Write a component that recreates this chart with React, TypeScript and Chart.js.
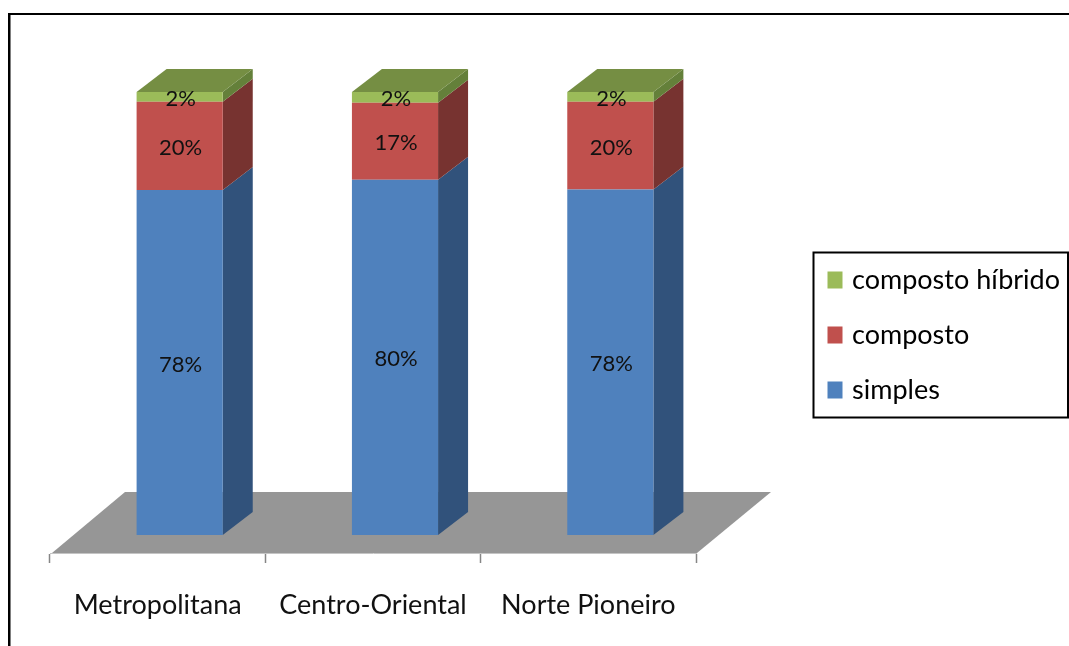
import React, { useEffect, useRef } from "react";
import { Chart, registerables } from "chart.js";

Chart.register(...registerables);

const categories = ["Metropolitana", "Centro-Oriental", "Norte Pioneiro"];
const simples = [77.9, 80.2, 78.0];
const composto = [19.9, 17.4, 19.8];
const compostoHibrido = [2.2, 2.4, 2.2];

const FONT = "Lato";
const BAR_SHIFT = { x: 22, y: -18 };
const BAR_DEPTH = { x: 30, y: -23 };
const FLOOR_DEPTH = { x: 75, y: -61 };

const faceColors = ["#4F81BD", "#C0504D", "#9BBB59"];
const sideColors = ["#31527B", "#773330", "#64803A"];
const topColor = "#758E43";

function poly(ctx: CanvasRenderingContext2D, pts: number[][], fill: string) {
  ctx.beginPath();
  pts.forEach(([x, y], i) => (i ? ctx.lineTo(x, y) : ctx.moveTo(x, y)));
  ctx.closePath();
  ctx.fillStyle = fill;
  ctx.fill();
}

const scene3d = {
  id: "scene3d",
  beforeDraw(chart: any) {
    const ctx = chart.ctx as CanvasRenderingContext2D;
    ctx.save();
    ctx.fillStyle = "#FFFFFF";
    ctx.fillRect(0, 0, chart.width, chart.height);
    ctx.fillStyle = "#000000";
    ctx.fillRect(8, 13, chart.width - 8, 2);
    ctx.fillRect(8, 13, 2.5, chart.height - 13);
    ctx.strokeStyle = "#000000";
    ctx.lineWidth = 2;
    ctx.strokeRect(813.5, 252.5, 254.5, 165);
    ctx.restore();
  },
  beforeDatasetsDraw(chart: any) {
    const ctx = chart.ctx as CanvasRenderingContext2D;
    const { x, y } = chart.scales;
    const bottom = y.bottom;
    poly(
      ctx,
      [
        [x.left + 2, bottom],
        [x.right + 1, bottom],
        [x.right + FLOOR_DEPTH.x, bottom + FLOOR_DEPTH.y],
        [x.left + FLOOR_DEPTH.x, bottom + FLOOR_DEPTH.y],
      ],
      "#969696"
    );
    ctx.save();
    ctx.translate(BAR_SHIFT.x, BAR_SHIFT.y);
    chart.data.datasets.forEach((_: any, d: number) => {
      const meta = chart.getDatasetMeta(d);
      meta.data.forEach((bar: any) => {
        const right = bar.x + bar.width / 2;
        poly(
          ctx,
          [
            [right, bar.base],
            [right + BAR_DEPTH.x, bar.base + BAR_DEPTH.y],
            [right + BAR_DEPTH.x, bar.y + BAR_DEPTH.y],
            [right, bar.y],
          ],
          sideColors[d]
        );
        if (d === chart.data.datasets.length - 1) {
          const left = bar.x - bar.width / 2;
          poly(
            ctx,
            [
              [left, bar.y],
              [right, bar.y],
              [right + BAR_DEPTH.x, bar.y + BAR_DEPTH.y],
              [left + BAR_DEPTH.x, bar.y + BAR_DEPTH.y],
            ],
            topColor
          );
        }
      });
    });
  },
  afterDatasetsDraw(chart: any) {
    const ctx = chart.ctx as CanvasRenderingContext2D;
    ctx.font = `22px ${FONT}`;
    ctx.fillStyle = "#111111";
    ctx.textAlign = "center";
    ctx.textBaseline = "middle";
    chart.data.datasets.forEach((ds: any, d: number) => {
      chart.getDatasetMeta(d).data.forEach((bar: any, i: number) => {
        const label = `${Math.round(ds.data[i])}%`;
        ctx.fillText(label, bar.x + 1, (bar.y + bar.base) / 2 + 2);
      });
    });
    ctx.restore();
  },
  afterLayout(chart: any) {
    const legend = chart.legend;
    legend.left = 803.5;
    legend.right = 1068;
    legend.top = 238.5;
    legend.bottom = 500;
  },
};

export default function App() {
  const ref = useRef<HTMLCanvasElement>(null);
  useEffect(() => {
    const chart = new Chart(ref.current as HTMLCanvasElement, {
      type: "bar",
      data: {
        labels: categories,
        datasets: [
          { label: "simples", data: simples, backgroundColor: faceColors[0], borderWidth: 0 },
          { label: "composto", data: composto, backgroundColor: faceColors[1], borderWidth: 0 },
          { label: "composto híbrido", data: compostoHibrido, backgroundColor: faceColors[2], borderWidth: 0 },
        ],
      },
      options: {
        animation: false,
        responsive: false,
        devicePixelRatio: 1,
        layout: { padding: { left: 50, right: 373, top: 110, bottom: 13 } },
        datasets: { bar: { barPercentage: 0.4, categoryPercentage: 1 } },
        scales: {
          x: {
            stacked: true,
            afterFit: (s: any) => {
              s.height = 80;
            },
            grid: { drawOnChartArea: false, drawTicks: true, tickLength: 10, tickColor: "#868686", tickWidth: 1.5 },
            border: { display: true, color: "#C4C4C4", width: 1 },
            ticks: {
              color: "#111111",
              padding: 26,
              maxRotation: 0,
              font: { family: FONT, size: 27 },
            },
          },
          y: { stacked: true, display: false, min: 0, max: 100 },
        },
        plugins: {
          title: { display: false },
          tooltip: { enabled: false },
          legend: {
            display: true,
            position: "chartArea" as any,
            align: "start",
            reverse: true,
            labels: {
              boxWidth: 7,
              boxHeight: 9,
              padding: 28,
              color: "#111111",
              font: { family: FONT, size: 27 },
              generateLabels: (c: any) =>
                c.data.datasets.map((ds: any, i: number) => ({
                  text: ds.label,
                  fillStyle: ds.backgroundColor,
                  strokeStyle: ds.backgroundColor,
                  lineWidth: 8,
                  datasetIndex: i,
                  hidden: false,
                })),
            },
          },
        },
      } as any,
      plugins: [scene3d],
    });
    return () => chart.destroy();
  }, []);
  return (
    <div style={{ position: "fixed", left: 0, top: 0, width: 1069, height: 646, overflow: "hidden" }}>
      <canvas
        ref={ref}
        width={1069}
        height={646}
        style={{ display: "block", width: 1069, height: 646, filter: "blur(0.5px)" }}
      />
    </div>
  );
}
